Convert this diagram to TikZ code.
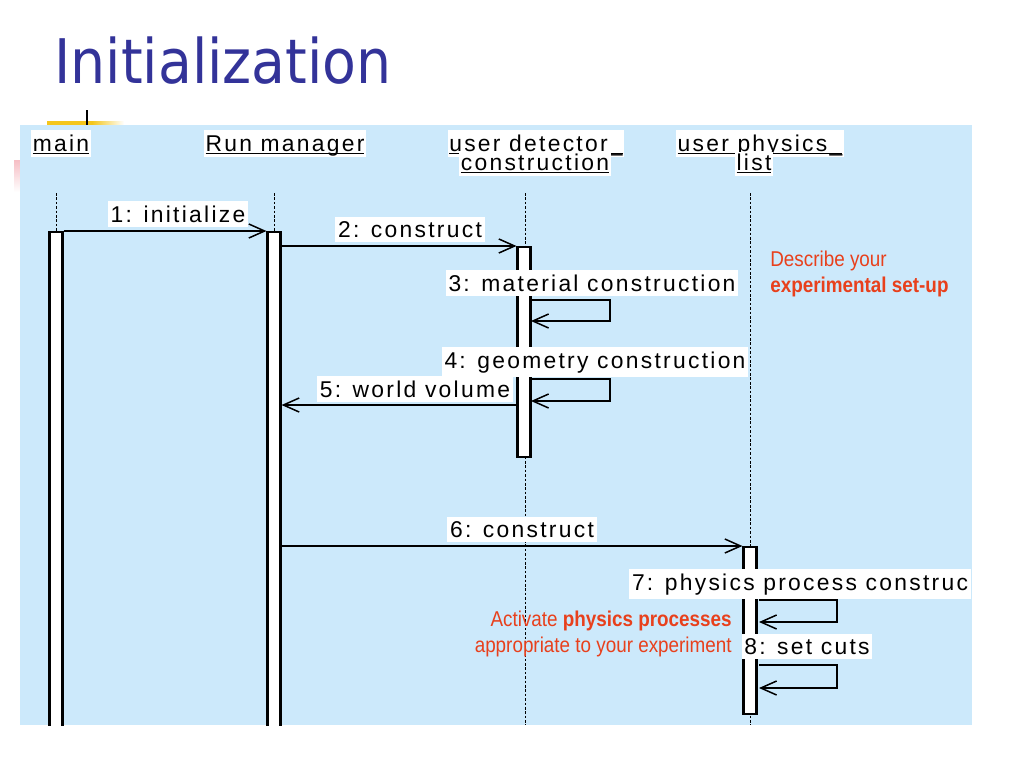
\documentclass[tikz,border=0pt]{standalone}
\usepackage{fontspec}
\setmainfont{Liberation Sans}
\newfontfamily\titlefont[FakeStretch=0.9]{DejaVu Sans}
\newfontfamily\umlfont[LetterSpace=10]{Liberation Sans}
\newfontfamily\notefont[FakeStretch=0.88]{Liberation Sans}
\usetikzlibrary{arrows.meta}
\definecolor{titleblue}{RGB}{51,51,153}
\definecolor{diagblue}{RGB}{204,233,251}
\definecolor{notered}{RGB}{232,64,28}
\definecolor{baryellow}{RGB}{244,198,28}
\definecolor{barpink}{RGB}{246,190,196}
\newcommand{\lifehead}[1]{\setbox0=\hbox{#1}\rlap{\rule[-1.7pt]{\wd0}{0.75pt}}\box0}
\tikzset{
  headbox/.style={fill=white,inner xsep=1pt,inner ysep=0pt,text height=12pt,text depth=3.4pt,
    anchor=base,font=\umlfont\fontsize{13}{15}\selectfont},
  msglabel/.style={fill=white,inner xsep=1.5pt,inner ysep=2.5pt,anchor=base,
    font=\umlfont\fontsize{13}{15}\selectfont},
  actbox/.style={draw,fill=white,line width=1.2pt,minimum width=0.26cm,inner sep=0pt,anchor=north},
  lifeline/.style={line width=0.5pt,dash pattern=on 1.5pt off 1pt},
  msg/.style={line width=0.85pt,-{Straight Barb[length=9pt,width=8pt]}},
  note/.style={text=notered,inner sep=0pt,font=\notefont\fontsize{12.2}{14}\selectfont}
}
\begin{document}
\begin{tikzpicture}[x=0.02cm,y=-0.02cm]
  \useasboundingbox (0,0) rectangle (1024,768);
  \node[anchor=base west,inner sep=0pt,text=titleblue,font=\titlefont\fontsize{35}{40}\selectfont] (title) at (54,83) {Initialization};
  \fill[baryellow] (47,121) rectangle (92,126);
  \fill[left color=baryellow,right color=white] (92,121) rectangle (124,126);
  \draw[line width=1.3pt] (87,110) -- (87,126);
  \fill[top color=barpink,bottom color=white] (14,160) rectangle (20,192);
  \fill[diagblue] (20,125) rectangle (972,725);
  \begin{scope}
    \clip (20,125) rectangle (972,725);
    \node[headbox] (hdMain) at (61,151) {\lifehead{main}};
    \node[headbox] (hdRun) at (285,151) {\lifehead{Run manager}};
    \node[headbox] (hdDet) at (536,151) {\lifehead{user detector\_}};
    \node[headbox,text height=10.2pt] (hdDetB) at (535,170) {\lifehead{construction}};
    \node[headbox] (hdPhys) at (760,151) {\lifehead{user physics\_}};
    \node[headbox,text height=10.2pt] (hdPhysB) at (754,170) {\lifehead{list}};

    \coordinate (llMain) at (56,193);
    \coordinate (llMainEnd) at (56,725);
    \coordinate (llRun) at (274,193);
    \coordinate (llRunEnd) at (274,725);
    \coordinate (llDet) at (525,193);
    \coordinate (llDetEnd) at (525,725);
    \coordinate (llPhys) at (750,193);
    \coordinate (llPhysEnd) at (750,725);
    \draw[lifeline] (llMain) -- (llMainEnd);
    \draw[lifeline] (llRun) -- (llRunEnd);
    \draw[lifeline] (llDet) -- (llDetEnd);
    \draw[lifeline] (llPhys) -- (llPhysEnd);

    \node[actbox,minimum height=10cm] (mainAct) at (56,231) {};
    \node[actbox,minimum height=10cm] (runAct) at (274,231) {};
    \node[actbox,minimum height=4.2cm] (detAct) at (524,246) {};
    \node[actbox,minimum height=3.34cm] (physAct) at (750,546) {};

    \draw[msg] (mainAct.north east) -- (runAct.north west);
    \draw[msg] (runAct.east |- detAct.north) -- (detAct.north west);
    \coordinate (self3) at (531,300);
    \draw[msg] (self3) -- ++(79,0) -- ++(0,21) -- ++(-79,0);
    \coordinate (self4) at (531,379);
    \draw[msg] (self4) -- ++(79,0) -- ++(0,22) -- ++(-79,0);
    \coordinate (ret5) at (517,405);
    \draw[msg] (ret5) -- (ret5 -| runAct.east);
    \draw[msg] (runAct.east |- physAct.north) -- (physAct.north west);
    \coordinate (self7) at (759,600);
    \draw[msg] (self7) -- ++(78,0) -- ++(0,22) -- ++(-78,0);
    \coordinate (self8) at (759,665);
    \draw[msg] (self8) -- ++(78,0) -- ++(0,23) -- ++(-78,0);

    \node[msglabel] (lab1) at (178,222) {1: initialize};
    \node[msglabel] (lab2) at (410,237) {2: construct};
    \node[msglabel] (lab3) at (592,291) {3: material construction};
    \node[msglabel] (lab4) at (595,368) {4: geometry construction};
    \node[msglabel] (lab5) at (415,397) {5: world volume};
    \node[msglabel] (lab6) at (522,537) {6: construct};
    \node[msglabel] (lab7) at (800,590) {7: physics process construc};
    \node[msglabel] (lab8) at (807,654) {8: set cuts};

    \node[note,anchor=base west] (noteSetA) at (770,266) {Describe your};
    \node[note,anchor=base west] (noteSetB) at (770,292) {\bfseries experimental set-up};
    \node[note,anchor=base east] (notePhysA) at (732,626) {Activate \textbf{physics processes}};
    \node[note,anchor=base east] (notePhysB) at (732,652) {appropriate to your experiment};
  \end{scope}
\end{tikzpicture}
\end{document}
